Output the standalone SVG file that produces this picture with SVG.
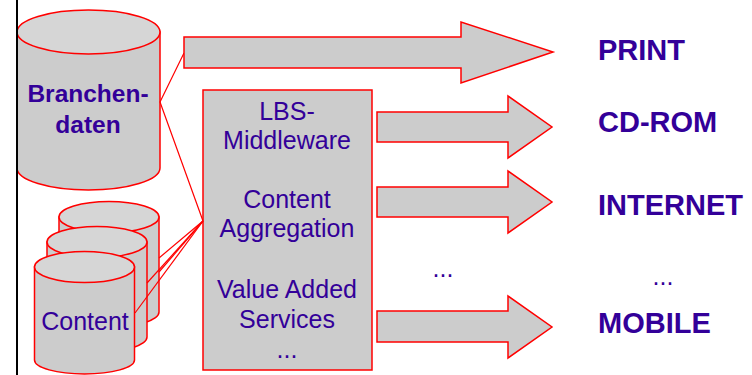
<svg xmlns="http://www.w3.org/2000/svg" width="752" height="375" viewBox="0 0 752 375">
<style>
.shape{fill:#CCCCCC;stroke:#FF0000;stroke-width:1.5}
.top{fill:#D6D6D6;stroke:#FF0000;stroke-width:1.5}
.con{fill:none;stroke:#FF0000;stroke-width:1.2}
.t{font-family:"Liberation Sans",Arial,sans-serif;fill:#330099;text-anchor:middle;font-size:25px}
.b{font-weight:bold;font-size:24.5px}
.lbl{font-family:"Liberation Sans",Arial,sans-serif;fill:#330099;font-weight:bold;font-size:29px}
</style>
<rect width="752" height="375" fill="#FFFFFF"/>
<g id="branchendaten">
<path class="shape" d="M17,32 V168 A71.5,22 0 0 0 160,168 V32 Z"/>
<ellipse class="top" cx="88.5" cy="32" rx="71.5" ry="22"/>
<text class="t b" x="88" y="102">Branchen-</text>
<text class="t b" x="88" y="133">daten</text>
</g>
<g id="content">
<path class="shape" d="M59,217 V312 A50,15 0 0 0 159,312 V217 Z"/>
<ellipse class="top" cx="109" cy="217" rx="50" ry="15.5"/>
<path class="shape" d="M47,242 V337 A50,15 0 0 0 147,337 V242 Z"/>
<ellipse class="top" cx="97" cy="242" rx="50" ry="15.5"/>
<path class="shape" d="M34.5,267 V360 A50,14 0 0 0 134.5,360 V267 Z"/>
<ellipse class="top" cx="84.5" cy="267" rx="50" ry="15.5"/>
<text class="t" x="85" y="330">Content</text>
</g>
<g id="middleware">
<rect class="shape" x="203" y="90" width="169" height="280"/>
<text class="t" x="287" y="120">LBS-</text>
<text class="t" x="287" y="149">Middleware</text>
<text class="t" x="287" y="208">Content</text>
<text class="t" x="287" y="237">Aggregation</text>
<text class="t" x="287" y="298">Value Added</text>
<text class="t" x="287" y="328">Services</text>
<text class="t" x="287" y="358">...</text>
</g>
<g id="connectors">
<polyline class="con" points="184,53 160,102 203,221"/>
<line class="con" x1="203" y1="221" x2="159" y2="258"/>
<line class="con" x1="203" y1="221" x2="159" y2="272"/>
<line class="con" x1="203" y1="221" x2="147" y2="283"/>
<line class="con" x1="203" y1="221" x2="135" y2="313"/>
</g>
<g id="arrow-print">
<polygon class="shape" points="184,37 461,37 461,22 553,52 461,83 461,68 184,68"/>
</g>
<g id="arrow-cdrom">
<polygon class="shape" points="377,112 508,112 508,96 552,127 508,158 508,142 377,142"/>
</g>
<g id="arrow-internet">
<polygon class="shape" points="377,187 508,187 508,171 552,202 508,233 508,217 377,217"/>
</g>
<g id="arrow-mobile">
<polygon class="shape" points="377,311 508,311 508,296 552,327 508,358 508,342 377,342"/>
</g>
<g id="dots-mid"><text class="t" x="443" y="277">...</text></g>
<g id="print"><text class="lbl" x="598" y="60">PRINT</text></g>
<g id="cdrom"><text class="lbl" x="598" y="132">CD-ROM</text></g>
<g id="internet"><text class="lbl" x="598" y="215">INTERNET</text></g>
<g id="dots-right"><text class="t" x="663" y="285">...</text></g>
<g id="mobile"><text class="lbl" x="598" y="333">MOBILE</text></g>
<line x1="17" y1="0" x2="17" y2="375" stroke="#000000" stroke-width="2"/>
</svg>
